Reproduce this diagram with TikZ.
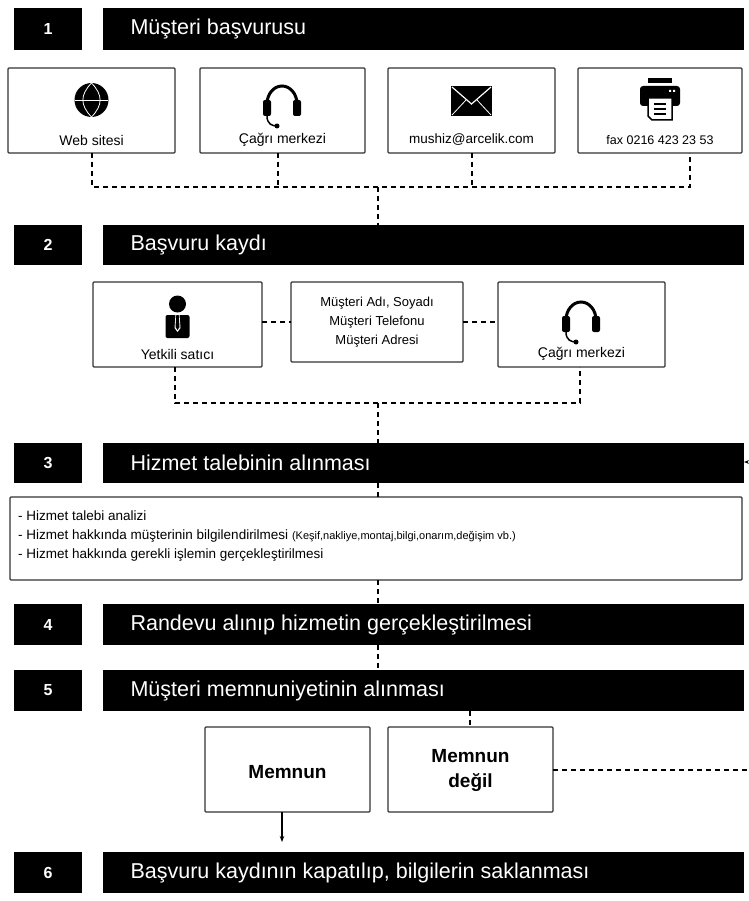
\documentclass[tikz,border=0pt]{standalone}
\usepackage{fontspec}
\setmainfont{Liberation Sans}
\usetikzlibrary{arrows.meta}
\begin{document}
\begin{tikzpicture}[x=1pt,y=-1pt,
  box/.style={draw=black!80,line width=1.2pt,fill=white,inner sep=0pt,rounded corners=1pt},
  lbl/.style={font=\fontsize{14}{16}\selectfont},
  dsh/.style={line width=1.2pt,dash pattern=on 5pt off 4pt},
  bt/.style={font=\fontsize{21.5}{24}\selectfont,text=white,anchor=west}]
\useasboundingbox (0,0) rectangle (748,901);
% bars
\foreach \i/\t/\b/\txt in {1/8/50/{Müşteri başvurusu},2/225/265/{Başvuru kaydı},3/443/483/{Hizmet talebinin alınması},4/604/645/{Randevu alınıp hizmetin gerçekleştirilmesi},5/670/711/{Müşteri memnuniyetinin alınması},6/852/893/{Başvuru kaydının kapatılıp, bilgilerin saklanması}}{
  \fill (14,\t) rectangle (82,\b);
  \node[text=white,font=\fontsize{16}{18}\selectfont\bfseries] (n\i) at (48,{(\t+\b)/2}) {\i};
  \fill (103,\t) rectangle (744,\b);
  \node[bt] (b\i) at (127,{(\t+\b)/2}) {\txt};
  \coordinate (bt\i) at (378,\t);
  \coordinate (bb\i) at (378,\b);
}
% row 1 boxes
\draw[box] (8,68) rectangle (175,153);
\draw[box] (200,68) rectangle (365,153);
\draw[box] (388,68) rectangle (555,153);
\draw[box] (578,68) rectangle (742,153);
\node[lbl] (w) at (91.5,140) {Web sitesi};
\node[lbl] (c) at (282.5,140) {Çağrı merkezi};
\node[lbl,font=\fontsize{13.5}{15}\selectfont] (m) at (471.5,140) {mushiz@arcelik.com};
\node[lbl,font=\fontsize{12.5}{14}\selectfont] (f) at (660,140) {fax 0216 423 23 53};
% globe
\fill (91.5,100) circle (17);
\draw[white,line width=0.8pt] (91.5,83) .. controls (80,95) and (80,105) .. (91.5,117);
\draw[white,line width=0.8pt] (91.5,83) .. controls (103,95) and (103,105) .. (91.5,117);
\draw[white,line width=0.8pt] (75,100) -- (108,100);
% headset 1
\begin{scope}[shift={(282,100)}]
\draw[line width=3pt] (-15,4) arc (180:360:15 and 18);
\fill[rounded corners=2pt] (-19,0) rectangle (-11,16);
\fill[rounded corners=2pt] (11,0) rectangle (19,16);
\draw[line width=1.5pt] (-15,16) .. controls (-15,24) and (-10,26) .. (-5,26);
\fill (-5,26) circle (2.5);
\end{scope}
% envelope
\fill (451,86) rectangle (492,116);
\draw[white,line width=1.2pt] (452,87) -- (471.5,104) -- (491,87);
\draw[white,line width=0.8pt] (452,115) -- (466,100) (491,115) -- (477,100);
% printer
\begin{scope}[shift={(660,100)}]
\fill (-12,-22) rectangle (12,-17);
\fill[rounded corners=3pt] (-20,-14) rectangle (20,6);
\fill[white] (9,-10) rectangle (11,-8) (13,-10) rectangle (15,-8);
\draw[fill=white,line width=1.5pt] (-12,-2) -- (12,-2) -- (12,20) -- (-8,20) -- (-12,16) -- cycle;
\draw[line width=1.5pt] (-6,4) -- (6,4) (-6,9) -- (6,9) (-6,14) -- (6,14);
\end{scope}
% dashed row1
\coordinate (j1) at (378,187);
\draw[dsh] (92,153) -- (92,187) -- (690,187) -- (690,153);
\draw[dsh] (278,153) -- (278,187);
\draw[dsh] (472,153) -- (472,187);
\draw[dsh] (j1) -- (bt2);
% row 2
\draw[box] (93,282) rectangle (262,367);
\draw[box] (291,282) rectangle (463,362);
\draw[box] (498,282) rectangle (665,367);
\node[lbl] (ys) at (177.5,354) {Yetkili satıcı};
\node[lbl,align=center,font=\fontsize{13}{19}\selectfont] (mi) at (377,322) {Müşteri Adı, Soyadı\\Müşteri Telefonu\\Müşteri Adresi};
\node[lbl] (cm) at (581.5,354) {Çağrı merkezi};
% person
\begin{scope}[shift={(177.5,318)}]
\fill (0,-14) circle (8.5);
\fill[rounded corners=2pt] (-12,-3) rectangle (12,20);
\fill[white] (-2,-3) -- (2,-3) -- (3,10) -- (0,14) -- (-3,10) -- cycle;
\fill (-1.2,-3) -- (1.2,-3) -- (2,9) -- (0,12) -- (-2,9) -- cycle;
\end{scope}
% headset 2
\begin{scope}[shift={(581,316)}]
\draw[line width=3pt] (-15,4) arc (180:360:15 and 18);
\fill[rounded corners=2pt] (-19,0) rectangle (-11,16);
\fill[rounded corners=2pt] (11,0) rectangle (19,16);
\draw[line width=1.5pt] (-15,16) .. controls (-15,24) and (-10,26) .. (-5,26);
\fill (-5,26) circle (2.5);
\end{scope}
\draw[dsh] (262,322) -- (291,322);
\draw[dsh] (463,322) -- (498,322);
\draw[dsh] (175,367) -- (175,403) -- (580,403) -- (580,367);
\coordinate (j2) at (378,403);
\draw[dsh] (j2) -- (bt3);
% arrow into bar 3
\coordinate (r3) at (748,462);
\draw[-{Stealth[length=5pt]},line width=0.8pt] (r3) -- (744,462);
% text box
\draw[box] (10,497) rectangle (742,580);
\node[anchor=north west,align=left,font=\fontsize{13.5}{19}\selectfont,inner sep=0pt] (tb) at (18,511)
 {- Hizmet talebi analizi\\- Hizmet hakkında müşterinin bilgilendirilmesi {\fontsize{11}{12}\selectfont (Keşif,nakliye,montaj,bilgi,onarım,değişim vb.)}\\- Hizmet hakkında gerekli işlemin gerçekleştirilmesi};
\draw[dsh] (bb3) -- (378,497);
\draw[dsh] (378,580) -- (bt4);
\draw[dsh] (bb4) -- (bt5);
\draw[dsh] (470,711) -- (470,725);
% satisfaction boxes
\draw[box] (205,727) rectangle (370,812);
\draw[box] (388,727) rectangle (553,812);
\node[font=\fontsize{19}{22}\selectfont\bfseries] (me) at (287.5,772) {Memnun};
\node[font=\fontsize{19}{25}\selectfont\bfseries,align=center] (md) at (470.5,770) {Memnun\\değil};
\coordinate (rr) at (748,770);
\draw[dsh] (553,770) -- (rr);
\draw[-{Stealth[length=6pt]},line width=1.2pt] (282,812) -- (282,842);
\end{tikzpicture}
\end{document}
